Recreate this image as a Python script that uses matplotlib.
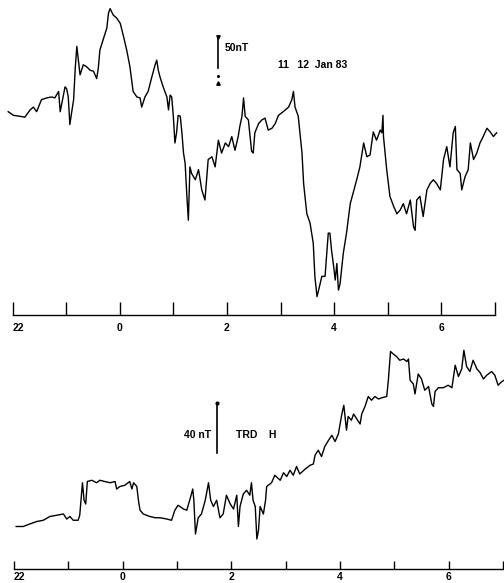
import matplotlib
matplotlib.use("Agg")
import matplotlib.pyplot as plt

plt.rcParams['font.family'] = ['Liberation Sans', 'DejaVu Sans']

# Hour ticks (UT); 22 and 23 belong to 11 Jan, the rest to 12 Jan
hour_ticks = [-2, -1, 0, 1, 2, 3, 4, 5, 6, 7]
hour_label_pos = [-2, 0, 2, 4, 6]
hour_labels = ["22", "0", "2", "4", "6"]

# Upper magnetogram trace: time (h UT) and field level (nT above the time line)
top_t = [-2.08, -1.98, -1.86, -1.77, -1.67, -1.61, -1.55, -1.46, -1.36, -1.27,
         -1.21, -1.14, -1.11, -1.02, -0.99, -0.96, -0.93, -0.90, -0.86, -0.83,
         -0.80, -0.77, -0.74, -0.68, -0.62, -0.55, -0.49, -0.43, -0.40, -0.37,
         -0.31, -0.24, -0.21, -0.18, -0.12, -0.06, 0.01, 0.07, 0.13, 0.19,
         0.25, 0.32, 0.38, 0.41, 0.47, 0.53, 0.60, 0.66, 0.69, 0.72,
         0.75, 0.81, 0.88, 0.91, 0.94, 0.97, 1.00, 1.03, 1.06, 1.09,
         1.13, 1.16, 1.19, 1.22, 1.25, 1.28, 1.31, 1.34, 1.41, 1.47,
         1.53, 1.59, 1.65, 1.72, 1.78, 1.84, 1.90, 1.97, 2.03, 2.09,
         2.15, 2.21, 2.24, 2.28, 2.31, 2.34, 2.40, 2.46, 2.49, 2.52,
         2.59, 2.65, 2.71, 2.77, 2.84, 2.90, 2.96, 3.05, 3.15, 3.21,
         3.24, 3.27, 3.33, 3.40, 3.43, 3.49, 3.55, 3.61, 3.64, 3.68,
         3.71, 3.77, 3.83, 3.89, 3.92, 3.95, 3.99, 4.02, 4.05, 4.08,
         4.11, 4.17, 4.23, 4.30, 4.36, 4.42, 4.48, 4.55, 4.61, 4.67,
         4.70, 4.73, 4.79, 4.86, 4.89, 4.91, 4.92, 4.98, 5.04, 5.11,
         5.17, 5.23, 5.29, 5.35, 5.42, 5.48, 5.51, 5.54, 5.60, 5.66,
         5.73, 5.79, 5.85, 5.91, 5.98, 6.04, 6.10, 6.16, 6.22, 6.26,
         6.29, 6.35, 6.38, 6.44, 6.50, 6.54, 6.60, 6.66, 6.72, 6.78,
         6.85, 6.91, 6.97, 7.03]
top_h = [221, 217, 216, 215, 223, 226, 221, 234, 236, 237,
         236, 243, 221, 248, 246, 237, 207, 219, 234, 268,
         292, 277, 261, 272, 270, 266, 265, 257, 268, 288,
         299, 312, 328, 333, 326, 323, 317, 303, 288, 270,
         243, 237, 236, 226, 237, 243, 259, 272, 277, 266,
         259, 248, 237, 223, 239, 237, 216, 187, 198, 217,
         216, 198, 176, 165, 132, 103, 161, 154, 147, 158,
         136, 125, 169, 172, 161, 190, 176, 187, 183, 194,
         179, 194, 205, 216, 236, 216, 212, 178, 176, 198,
         208, 212, 214, 201, 203, 208, 217, 221, 226, 234,
         243, 226, 216, 176, 143, 110, 100, 78, 42, 20,
         27, 42, 42, 89, 89, 71, 53, 38, 56, 27,
         34, 67, 89, 121, 134, 147, 161, 187, 172, 174,
         187, 199, 190, 201, 198, 217, 194, 158, 129, 118,
         110, 114, 121, 110, 125, 96, 92, 125, 129, 107,
         136, 143, 147, 143, 136, 169, 183, 161, 198, 205,
         158, 154, 136, 150, 158, 187, 169, 176, 187, 194,
         203, 199, 194, 198]

# Lower trace, TRD H component
bot_t = [-1.96, -1.83, -1.71, -1.58, -1.46, -1.34, -1.22, -1.09, -1.03, -0.97,
         -0.91, -0.82, -0.79, -0.74, -0.71, -0.68, -0.65, -0.57, -0.48, -0.42,
         -0.33, -0.23, -0.14, -0.11, -0.05, 0.04, 0.13, 0.17, 0.20, 0.26,
         0.29, 0.32, 0.38, 0.44, 0.50, 0.60, 0.69, 0.81, 0.90, 0.96,
         1.02, 1.12, 1.18, 1.24, 1.29, 1.31, 1.34, 1.39, 1.45, 1.52,
         1.58, 1.62, 1.67, 1.73, 1.79, 1.85, 1.91, 1.98, 2.04, 2.10,
         2.13, 2.16, 2.22, 2.28, 2.34, 2.37, 2.40, 2.44, 2.47, 2.50,
         2.53, 2.59, 2.63, 2.65, 2.74, 2.80, 2.90, 2.96, 3.02, 3.08,
         3.14, 3.20, 3.26, 3.36, 3.45, 3.51, 3.54, 3.60, 3.66, 3.72,
         3.79, 3.85, 3.91, 3.97, 4.03, 4.07, 4.12, 4.15, 4.21, 4.25,
         4.31, 4.37, 4.40, 4.46, 4.52, 4.58, 4.64, 4.71, 4.77, 4.86,
         4.89, 4.93, 4.98, 5.04, 5.10, 5.17, 5.23, 5.26, 5.29, 5.35,
         5.38, 5.44, 5.50, 5.56, 5.63, 5.69, 5.72, 5.75, 5.81, 5.90,
         5.99, 6.06, 6.12, 6.18, 6.24, 6.28, 6.33, 6.39, 6.45, 6.52,
         6.58, 6.64, 6.70, 6.79, 6.85, 6.91, 6.98, 7.02]
bot_h = [34, 34, 36, 38, 39, 42, 43, 44, 40, 42,
         39, 39, 43, 69, 55, 52, 70, 71, 69, 71,
         70, 69, 70, 64, 66, 67, 70, 64, 69, 66,
         55, 47, 44, 43, 42, 41, 41, 40, 39, 47,
         51, 48, 47, 56, 64, 55, 28, 41, 44, 55,
         69, 55, 50, 55, 41, 44, 59, 52, 48, 59,
         34, 50, 60, 63, 59, 69, 55, 50, 24, 31,
         50, 44, 55, 66, 69, 75, 71, 77, 74, 79,
         75, 82, 76, 80, 83, 84, 91, 95, 90, 98,
         103, 107, 102, 108, 123, 131, 111, 122, 119, 124,
         120, 116, 124, 130, 138, 135, 138, 136, 137, 138,
         151, 174, 172, 170, 167, 168, 166, 168, 151, 148,
         140, 156, 152, 143, 146, 132, 130, 142, 145, 145,
         147, 145, 163, 154, 160, 175, 162, 158, 167, 160,
         157, 152, 155, 158, 155, 147, 150, 151]

W, H = 504, 583
fig = plt.figure(figsize=(W / 100, H / 100), dpi=100)


def time_axis(ax, tick_len, pad):
    for side in ("top", "left", "right"):
        ax.spines[side].set_visible(False)
    ax.spines["bottom"].set_linewidth(1.0)
    ax.set_yticks([])
    ax.set_xlim(-2, 7)
    ax.set_xticks(hour_ticks, minor=True)
    ax.set_xticks(hour_label_pos)
    ax.set_xticklabels(hour_labels, fontsize=7.5, fontweight="bold")
    ax.tick_params(axis="x", which="both", direction="in", length=tick_len,
                   width=1.0, pad=pad)
    ax.get_xticklabels()[0].set_horizontalalignment("left")
    ax.patch.set_visible(False)


# upper panel
ax1 = fig.add_axes([12.5 / W, 1 - 315 / H, (495 - 12.5) / W, 315 / H])
time_axis(ax1, 9.4, 6)
ax1.set_ylim(0, 342.4)
ax1.plot(top_t, top_h, color="black", lw=1.0, clip_on=False)
# 50 nT scale bar
ax1.plot([1.83, 1.83], [268, 302], color="black", lw=1.2)
ax1.plot([1.83], [302], marker="v", color="black", ms=2.5)
ax1.plot([1.83], [260], marker="o", color="black", ms=1.2)
ax1.plot([1.83], [252], marker="^", color="black", ms=2.5)
ax1.text(1.96, 290, "50nT", fontsize=7.5, fontweight="bold",
         va="center", ha="left")
ax1.text(2.96, 272, "11   12  Jan 83", fontsize=7.5, fontweight="bold",
         va="center", ha="left")

# lower panel
ax2 = fig.add_axes([14 / W, 1 - 569 / H, 489 / W, (569 - 330) / H])
time_axis(ax2, 5.8, 2)
ax2.set_ylim(0, 191.2)
ax2.plot(bot_t, bot_h, color="black", lw=1.0, clip_on=False)
# 40 nT scale bar
ax2.plot([1.74, 1.74], [92.8, 132.8], color="black", lw=1.2)
ax2.plot([1.74], [132.8], marker="o", color="black", ms=2)
ax2.text(1.62, 107, "40 nT", fontsize=7.5, fontweight="bold",
         va="center", ha="right")
ax2.text(2.09, 107, "TRD    H", fontsize=7.5, fontweight="bold",
         va="center", ha="left")

fig.savefig("out.png", dpi=100)
